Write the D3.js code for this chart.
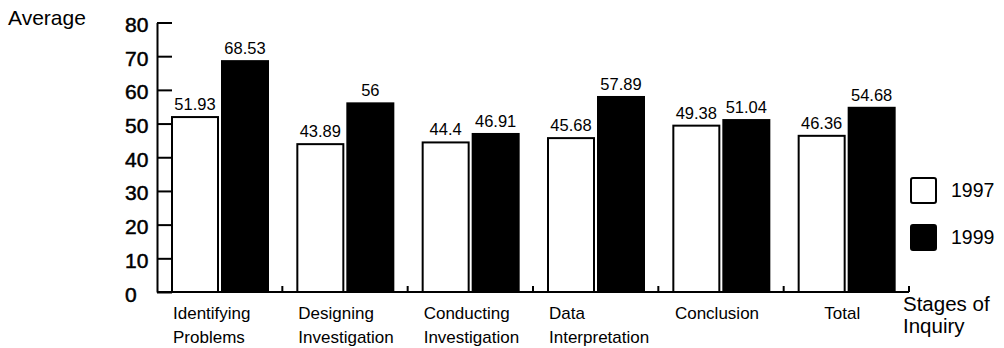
<!DOCTYPE html>
<html>
<head>
<meta charset="utf-8">
<script src="https://cdn.jsdelivr.net/npm/d3@7"></script>
<style>
  html, body { margin: 0; padding: 0; background: #fff; }
  svg { display: block; }
  text { font-family: "Liberation Sans", Arial, Helvetica, sans-serif; fill: #000; }
</style>
</head>
<body>
<svg id="chart" width="1004" height="348"></svg>
<script>
// Average score per stage of inquiry, 1997 vs 1999
const categories = [
  ["Identifying", "Problems"],
  ["Designing", "Investigation"],
  ["Conducting", "Investigation"],
  ["Data", "Interpretation"],
  ["Conclusion"],
  ["Total"]
];
const seriesNames = ["1997", "1999"];
const values1997 = [51.93, 43.89, 44.4, 45.68, 49.38, 46.36];
const values1999 = [68.53, 56, 46.91, 57.89, 51.04, 54.68];
const labels1997 = ["51.93", "43.89", "44.4", "45.68", "49.38", "46.36"];
const labels1999 = ["68.53", "56", "46.91", "57.89", "51.04", "54.68"];
const yTicks = [0, 10, 20, 30, 40, 50, 60, 70, 80];
const fills = ["#ffffff", "#000000"];

const svg = d3.select("#chart");
const catKeys = categories.map(c => c.join(" "));

const x0 = d3.scaleBand().domain(catKeys).range([157, 909]).padding(0);
const x1 = d3.scaleBand().domain(seriesNames).range([15, 111]).paddingInner(0.08);
const y = d3.scaleLinear().domain([0, 80]).range([292, 22.5]);

const rows = catKeys.map((k, i) => ({
  key: k,
  lines: categories[i],
  bars: [
    { s: "1997", v: values1997[i], label: labels1997[i] },
    { s: "1999", v: values1999[i], label: labels1999[i] }
  ]
}));

// Bars
const groups = svg.append("g").selectAll("g").data(rows).join("g")
  .attr("transform", d => `translate(${x0(d.key)},0)`);

groups.selectAll("rect").data(d => d.bars).join("rect")
  .attr("x", d => x1(d.s))
  .attr("y", d => y(d.v))
  .attr("width", x1.bandwidth())
  .attr("height", d => y(0) - y(d.v))
  .attr("fill", d => fills[seriesNames.indexOf(d.s)])
  .attr("stroke", "#000")
  .attr("stroke-width", 2);

groups.selectAll("text.val").data(d => d.bars).join("text")
  .attr("class", "val")
  .attr("x", d => x1(d.s) + x1.bandwidth() / 2)
  .attr("y", d => y(d.v) - 7)
  .attr("text-anchor", "middle")
  .style("font-size", "16.5px")
  .text(d => d.label);

// Y axis with inward ticks
const yAxis = d3.axisRight(y).tickValues(yTicks).tickSize(15).tickPadding(0).tickSizeOuter(0);
const yg = svg.append("g").attr("transform", "translate(157,0)").call(yAxis);
yg.select(".domain").attr("stroke", "#000").attr("stroke-width", 2);
yg.selectAll(".tick line").attr("stroke", "#000").attr("stroke-width", 2);
yg.selectAll(".tick text")
  .attr("x", -32)
  .attr("dy", "0.43em")
  .attr("text-anchor", "start")
  .style("font-size", "21px")
  .style("font-family", "'Liberation Sans', Arial, sans-serif")
  .attr("fill", "#000")
  .attr("stroke", "#000")
  .attr("stroke-width", 0.5);

// Category baseline with small separators
const base = svg.append("g");
base.append("line")
  .attr("x1", 157).attr("x2", 909)
  .attr("y1", y(0)).attr("y2", y(0))
  .attr("stroke", "#000").attr("stroke-width", 2);
const seps = catKeys.map(k => x0(k) + x0.bandwidth());
base.selectAll("line.sep").data(seps).join("line")
  .attr("class", "sep")
  .attr("x1", d => d).attr("x2", d => d)
  .attr("y1", y(0)).attr("y2", y(0) - 6)
  .attr("stroke", "#000").attr("stroke-width", 2);

// Category labels
const catText = svg.append("g").selectAll("text").data(rows).join("text")
  .style("font-size", "17px")
  .attr("text-anchor", d => d.lines.length > 1 ? "start" : "middle")
  .attr("x", d => d.lines.length > 1 ? x0(d.key) + 16 : x0(d.key) + x0.bandwidth() / 2 - 4)
  .attr("y", 319);
catText.selectAll("tspan").data(d => d.lines.map(l => ({ l, d }))).join("tspan")
  .attr("x", function () { return d3.select(this.parentNode).attr("x"); })
  .attr("dy", (t, i) => i === 0 ? 0 : 24)
  .text(t => t.l);

// Axis titles
svg.append("text").attr("x", 8).attr("y", 25).style("font-size", "21px").text("Average");
const st = svg.append("text").attr("x", 903).attr("y", 311).style("font-size", "20.5px");
st.append("tspan").attr("x", 903).text("Stages of");
st.append("tspan").attr("x", 903).attr("dy", 22).text("Inquiry");

// Legend
const legend = svg.append("g").selectAll("g").data(seriesNames).join("g")
  .attr("transform", (d, i) => `translate(911,${178 + i * 47})`);
legend.append("rect")
  .attr("width", 25).attr("height", 25).attr("rx", 2)
  .attr("fill", (d, i) => fills[i])
  .attr("stroke", "#000").attr("stroke-width", 2);
legend.append("text")
  .attr("x", 40).attr("y", 19)
  .style("font-size", "19.5px")
  .text(d => d);
</script>
</body>
</html>
